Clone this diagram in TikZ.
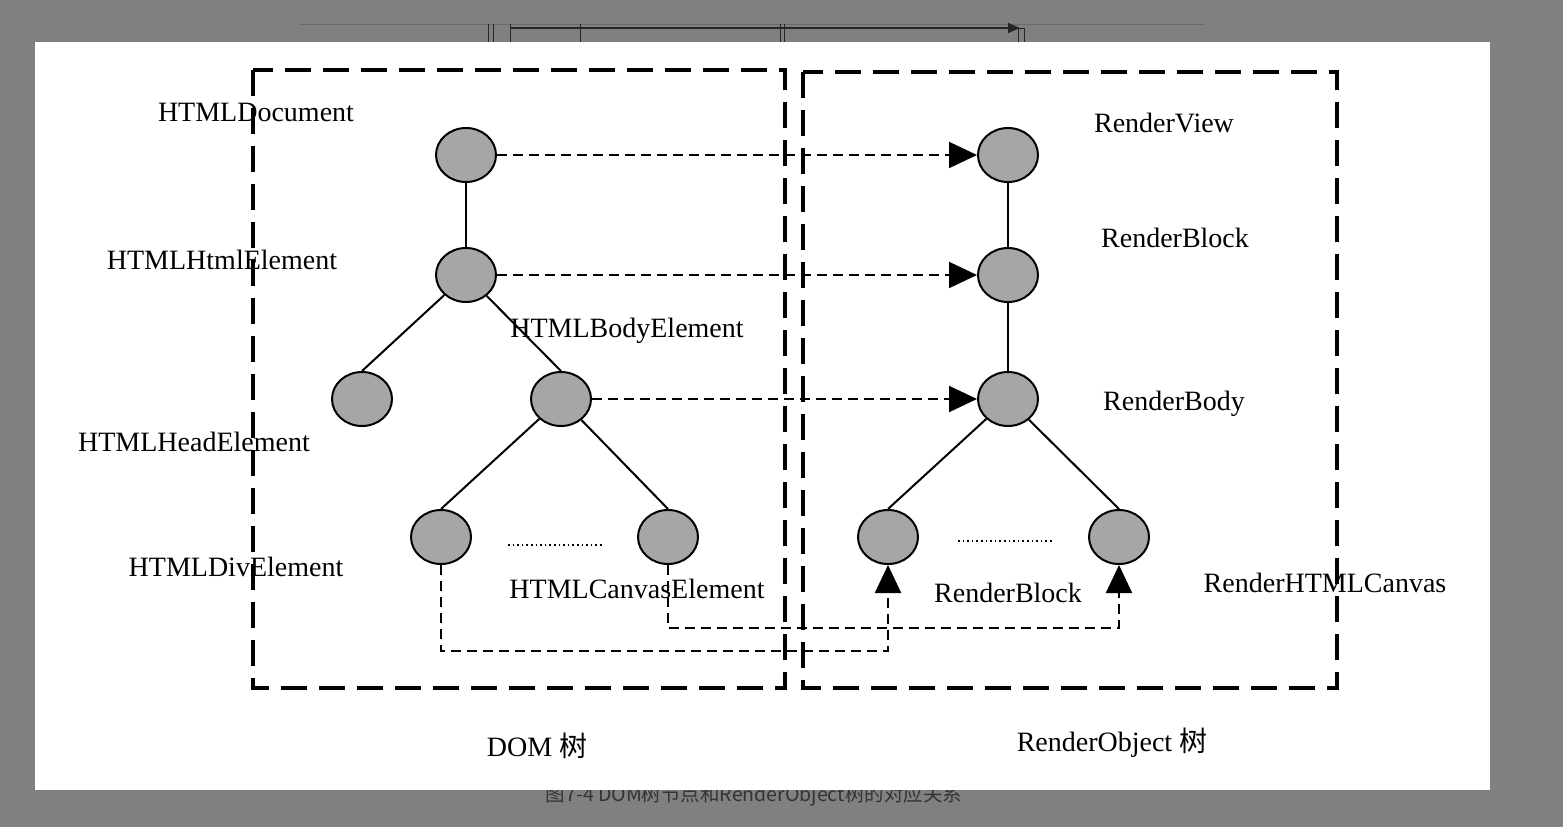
\documentclass[tikz,border=0pt]{standalone}
\usepackage{fontspec}
\setmainfont{Liberation Serif}
\newfontfamily\cjk{Noto Sans CJK SC}
\usetikzlibrary{arrows.meta,shapes}
\definecolor{screengray}{RGB}{128,128,128}
\definecolor{nodegray}{RGB}{166,166,166}
\tikzstyle{vertex}=[ellipse,draw,line width=2pt,fill=nodegray,minimum width=60pt,minimum height=54pt,inner sep=0pt]
\tikzstyle{edge} = [draw,line width=2pt,-]
\tikzstyle{link} = [draw,line width=2pt,dash pattern=on 10pt off 6pt,-{Triangle[length=28pt,width=26pt]}]
\tikzstyle{treebox} = [draw,line width=4.5pt,dash pattern=on 26pt off 12pt]
\tikzstyle{dots} = [draw,line width=1.6pt,dash pattern=on 1.6pt off 3pt]
\tikzstyle{nodetext} = [font=\fontsize{28}{32}\selectfont,inner sep=0pt]

\begin{document}
\begin{tikzpicture}[x=1pt,y=-1pt]
    % screenshot around the figure
    \fill[screengray] (0,0) rectangle (1563,827);
    \node[font=\cjk\fontsize{19.5}{22}\selectfont,text=black!80] (caption) at (754,796) {图7-4 DOM树节点和RenderObject树的对应关系};
    \draw[black!58,line width=1pt] (300,24) -- (1205,24);
    \draw[black!85,line width=1.5pt,-{Triangle[length=12pt,width=10pt]}] (510,28) -- (1020,28);
    \foreach \x in {488,493,510,580,780,784}
        \draw[black!85,line width=1pt] (\x,24) -- (\x,42);
    \draw[black!85,line width=1pt] (1018,28) rectangle (1024,42);
    \fill[white] (35,42) rectangle (1490,790);
    % the two trees
    \path[treebox] (253,70) rectangle (785,688);
    \path[treebox] (803,72) rectangle (1337,688);
    % vertices
    \foreach \pos/\name in {{(466,155)/doc}, {(466,275)/html}, {(362,399)/head}, {(561,399)/body}, {(441,537)/div}, {(668,537)/canvas},
                            {(1008,155)/view}, {(1008,275)/block}, {(1008,399)/rbody}, {(888,537)/rblock}, {(1119,537)/rcanvas}}
        \node[vertex] (\name) at \pos {};
    % tree edges
    \foreach \source/\dest in {doc/html, html/head, html/body, body/div, body/canvas, view/block, block/rbody, rbody/rblock, rbody/rcanvas}
        \path[edge] (\source) -- (\dest.north);
    % correspondence
    \foreach \source/\dest in {doc/view, html/block, body/rbody}
        \path[link] (\source) -- (\dest);
    \coordinate (divturn) at (441,651);
    \coordinate (canvasturn) at (668,628);
    \path[link] (div) -- (divturn) -| (rblock);
    \path[link] (canvas) -- (canvasturn) -| (rcanvas);
    \path[dots] (508,545) -- (602,545);
    \path[dots] (958,541) -- (1052,541);
    % labels
    \node[nodetext] (tdoc) at (256,112) {HTMLDocument};
    \node[nodetext] (thtml) at (222,260) {HTMLHtmlElement};
    \node[nodetext] (tbody) at (627,331) {HTMLBodyElement};
    \node[nodetext] (thead) at (194,442) {HTMLHeadElement};
    \node[nodetext] (tdiv) at (236,567) {HTMLDivElement};
    \node[nodetext] (tcanvas) at (637,589) {HTMLCanvasElement};
    \node[nodetext] (tview) at (1164,123) {RenderView};
    \node[nodetext] (tblock) at (1175,238) {RenderBlock};
    \node[nodetext] (trbody) at (1174,404) {RenderBody};
    \node[nodetext] (trblock) at (1008,593) {RenderBlock};
    \node[nodetext] (trcanvas) at (1325,583) {RenderHTMLCanvas};
    \node[nodetext] (domtree) at (537,746) {DOM {\cjk 树}};
    \node[nodetext] (rendertree) at (1112,743) {RenderObject {\cjk 树}};
\end{tikzpicture}
\end{document}
